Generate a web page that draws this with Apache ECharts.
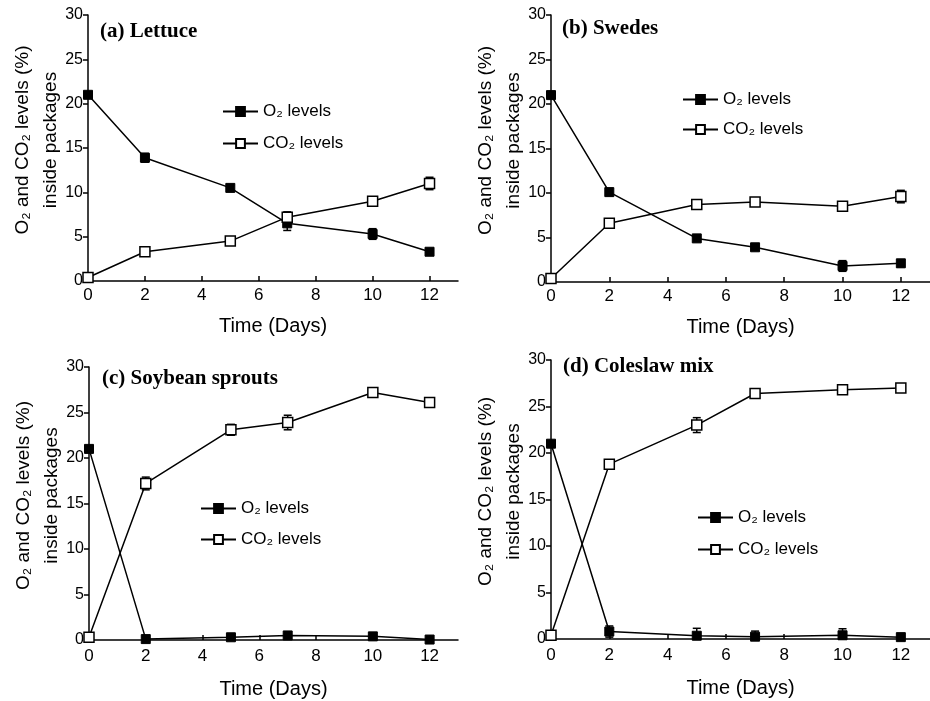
<!DOCTYPE html>
<html>
<head>
<meta charset="utf-8">
<script src="https://cdn.jsdelivr.net/npm/echarts@6/dist/echarts.min.js"></script>
<style>
html,body{margin:0;padding:0;background:#fff;}
#chart{width:930px;height:701px;}
</style>
</head>
<body>
<div id="chart"></div>
<script>
// ---- data ----
const days = [0, 2, 5, 7, 10, 12];
const xTickLabels = [0, 2, 4, 6, 8, 10, 12];
const panelTitles = ['(a) Lettuce', '(b) Swedes', '(c) Soybean sprouts', '(d) Coleslaw mix'];
const seriesNames = ['O\u2082 levels', 'CO\u2082 levels'];

const lettuceO2 = [21.0, 13.9, 10.5, 6.5, 5.3, 3.3];
const lettuceO2Err = [0.3, 0.5, 0.3, 0.8, 0.6, 0.3];
const lettuceCO2 = [0.4, 3.3, 4.5, 7.2, 9.0, 11.0];
const lettuceCO2Err = [0.2, 0.3, 0.3, 0.6, 0.4, 0.7];

const swedesO2 = [21.0, 10.1, 4.9, 3.9, 1.8, 2.1];
const swedesO2Err = [0.3, 0.4, 0.3, 0.3, 0.6, 0.4];
const swedesCO2 = [0.4, 6.6, 8.7, 9.0, 8.5, 9.6];
const swedesCO2Err = [0.2, 0.3, 0.4, 0.3, 0.5, 0.7];

const soybeanO2 = [21.0, 0.1, 0.3, 0.5, 0.4, 0.05];
const soybeanO2Err = [0.3, 0.2, 0.2, 0.2, 0.2, 0.1];
const soybeanCO2 = [0.3, 17.2, 23.1, 23.9, 27.2, 26.1];
const soybeanCO2Err = [0.2, 0.7, 0.6, 0.8, 0.4, 0.5];

const coleslawO2 = [21.0, 0.8, 0.35, 0.25, 0.4, 0.2];
const coleslawO2Err = [0.3, 0.6, 0.8, 0.6, 0.7, 0.2];
const coleslawCO2 = [0.4, 18.8, 23.0, 26.4, 26.8, 27.0];
const coleslawCO2Err = [0.2, 0.4, 0.8, 0.5, 0.4, 0.3];

// ---- layout ----
const panels = [
  {o2: lettuceO2, o2e: lettuceO2Err, co2: lettuceCO2, co2e: lettuceCO2Err,
   grid: {left: 88, top: 15, width: 370, height: 266},
   title: {left: 100, top: 21}, legend: {left: 222, top: 103, gap: 15},
   yGap: 23, xGap: 35, xMargin: 6},
  {o2: swedesO2, o2e: swedesO2Err, co2: swedesCO2, co2e: swedesCO2Err,
   grid: {left: 551, top: 15, width: 380, height: 267},
   title: {left: 562, top: 18}, legend: {left: 682, top: 91, gap: 13},
   yGap: 23, xGap: 35, xMargin: 6},
  {o2: soybeanO2, o2e: soybeanO2Err, co2: soybeanCO2, co2e: soybeanCO2Err,
   grid: {left: 89, top: 367, width: 369, height: 273},
   title: {left: 102, top: 368}, legend: {left: 200, top: 500, gap: 14},
   yGap: 23, xGap: 39, xMargin: 8},
  {o2: coleslawO2, o2e: coleslawO2Err, co2: coleslawCO2, co2e: coleslawCO2Err,
   grid: {left: 551, top: 360, width: 385, height: 279},
   title: {left: 563, top: 356}, legend: {left: 697, top: 509, gap: 15},
   yGap: 23, xGap: 39, xMargin: 8}
];

const black = '#000';
const sans = 'Liberation Sans, Arial, sans-serif';

const option = {
  backgroundColor: '#fff',
  animation: false,
  title: [], grid: [], xAxis: [], yAxis: [], legend: [], series: []
};

function errorSeries(idx, vals, errs) {
  return {
    type: 'custom', xAxisIndex: idx, yAxisIndex: idx, silent: true, z: 1,
    data: days.map((d, i) => [d, vals[i], errs[i]]),
    renderItem: function (params, api) {
      const x = api.value(0), y = api.value(1), e = api.value(2);
      const top = api.coord([x, y + e]);
      const bot = api.coord([x, Math.max(0, y - e)]);
      const w = 4;
      const st = {stroke: black, lineWidth: 1.5};
      return {type: 'group', children: [
        {type: 'line', shape: {x1: top[0], y1: top[1], x2: bot[0], y2: bot[1]}, style: st},
        {type: 'line', shape: {x1: top[0] - w, y1: top[1], x2: top[0] + w, y2: top[1]}, style: st},
        {type: 'line', shape: {x1: bot[0] - w, y1: bot[1], x2: bot[0] + w, y2: bot[1]}, style: st}
      ]};
    }
  };
}

panels.forEach((p, i) => {
  option.title.push({
    text: panelTitles[i], left: p.title.left, top: p.title.top, padding: 0,
    textStyle: {fontFamily: 'Liberation Serif, Times New Roman, serif', fontWeight: 'bold', fontSize: 21, color: black}
  });
  option.grid.push(Object.assign({containLabel: false}, p.grid));
  option.xAxis.push({
    type: 'value', gridIndex: i, min: 0, max: 13,
    name: 'Time (Days)', nameLocation: 'middle', nameGap: p.xGap, nameMoveOverlap: false,
    nameTextStyle: {fontFamily: sans, fontSize: 20, color: black},
    axisLine: {show: true, onZero: false, lineStyle: {color: black, width: 1.5}},
    axisTick: {show: true, inside: true, length: 5, customValues: xTickLabels, lineStyle: {color: black, width: 1.5}},
    axisLabel: {customValues: xTickLabels, margin: p.xMargin, fontFamily: sans, fontSize: 17, color: black},
    splitLine: {show: false}
  });
  option.yAxis.push({
    type: 'value', gridIndex: i, min: 0, max: 30, interval: 5,
    name: 'O\u2082 and CO\u2082 levels (%)\ninside packages', nameLocation: 'middle', nameGap: p.yGap,
    nameMoveOverlap: false,
    nameTextStyle: {fontFamily: sans, fontSize: 19, lineHeight: 28, color: black, padding: [0, 0, 0, 16]},
    axisLine: {show: true, lineStyle: {color: black, width: 1.5}},
    axisTick: {show: true, inside: false, length: 5, lineStyle: {color: black, width: 1.5}},
    axisLabel: {margin: 5, fontFamily: sans, fontSize: 16, color: black},
    splitLine: {show: false}
  });
  option.legend.push({
    orient: 'vertical', left: p.legend.left, top: p.legend.top, padding: 0,
    itemWidth: 35, itemHeight: 11, itemGap: p.legend.gap,
    data: seriesNames, selectedMode: false,
    textStyle: {fontFamily: sans, fontSize: 17, color: black}
  });
  option.series.push(errorSeries(i, p.o2, p.o2e));
  option.series.push(errorSeries(i, p.co2, p.co2e));
  option.series.push({
    name: seriesNames[0], type: 'line', xAxisIndex: i, yAxisIndex: i, z: 3,
    data: days.map((d, k) => [d, p.o2[k]]),
    symbol: 'rect', symbolSize: 9,
    lineStyle: {color: black, width: 1.5},
    itemStyle: {color: black, borderColor: black, borderWidth: 1}
  });
  option.series.push({
    name: seriesNames[1], type: 'line', xAxisIndex: i, yAxisIndex: i, z: 4,
    data: days.map((d, k) => [d, p.co2[k]]),
    symbol: 'rect', symbolSize: 10,
    lineStyle: {color: black, width: 1.5},
    itemStyle: {color: '#fff', borderColor: black, borderWidth: 1.5}
  });
});

const chart = echarts.init(document.getElementById('chart'), null, {renderer: 'canvas'});
chart.setOption(option);
</script>
</body>
</html>
